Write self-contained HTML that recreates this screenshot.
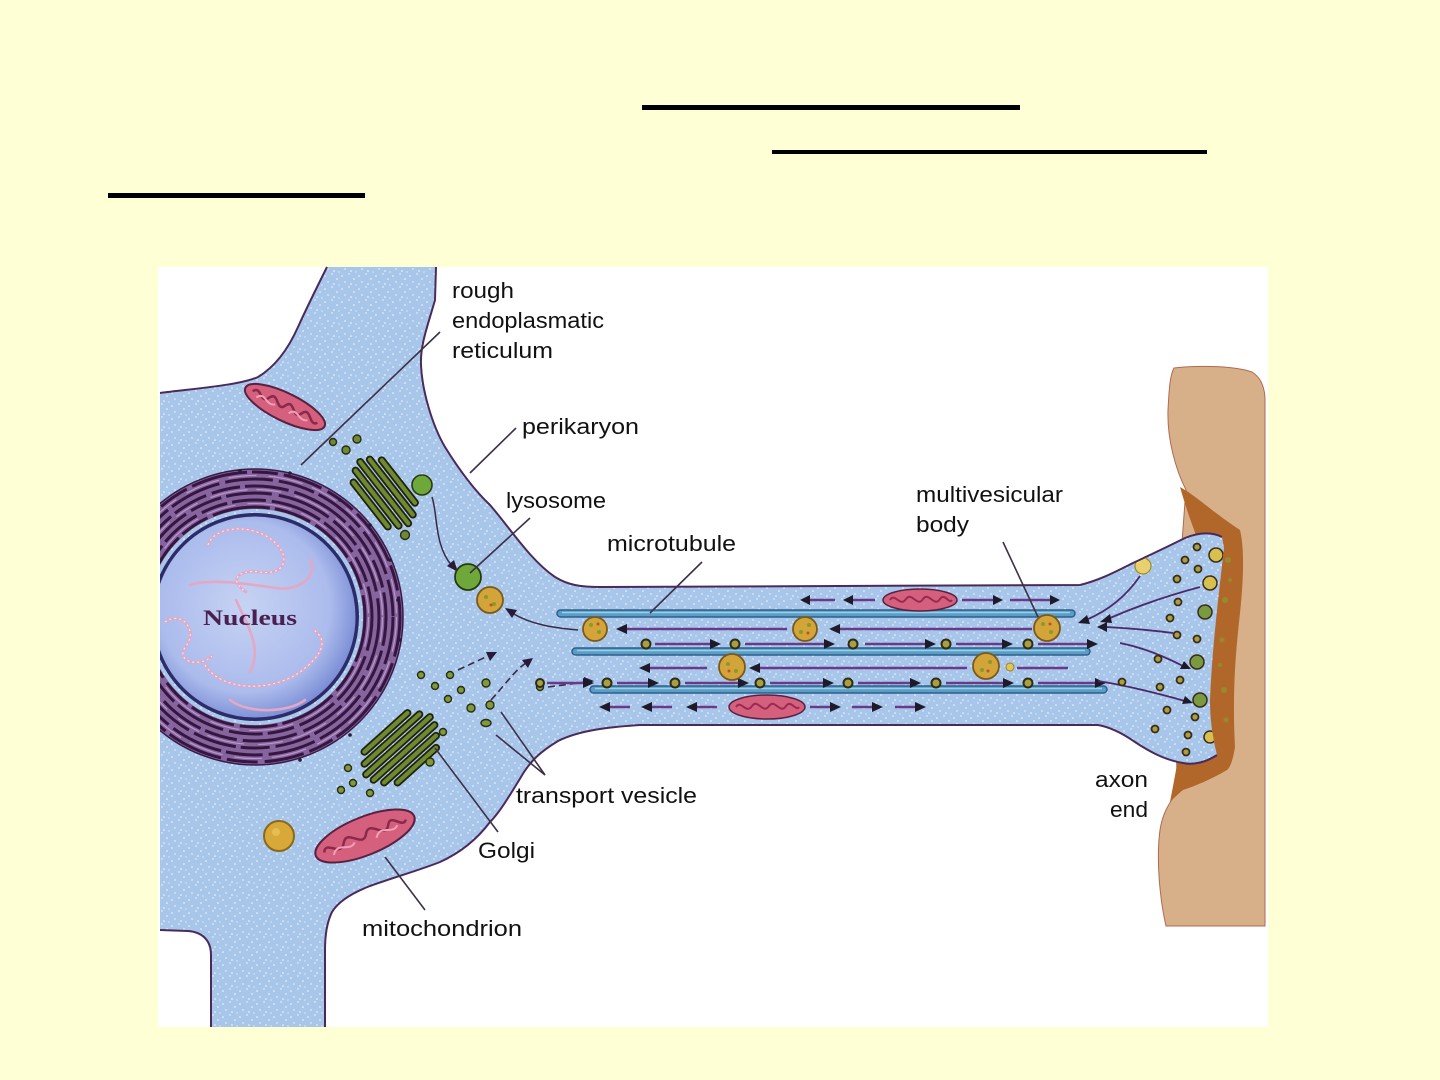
<!DOCTYPE html>
<html><head><meta charset="utf-8"><style>
html,body{margin:0;padding:0;background:#FFFFD6;}
svg{display:block;}
text{font-family:"Liberation Sans",sans-serif;fill:#111;}
</style></head><body>
<svg width="1440" height="1080" viewBox="0 0 1440 1080" xmlns="http://www.w3.org/2000/svg">
<defs>
<pattern id="speck" x="0" y="0" width="17" height="13" patternUnits="userSpaceOnUse">
<circle cx="2" cy="3" r="0.8" fill="#fff"/><circle cx="9" cy="1" r="0.7" fill="#fff"/><circle cx="14" cy="6" r="0.8" fill="#fff"/><circle cx="5" cy="9" r="0.7" fill="#fff"/><circle cx="11" cy="11" r="0.8" fill="#fff"/><circle cx="16" cy="12" r="0.6" fill="#fff"/>
</pattern>
<radialGradient id="nuc" cx="0.45" cy="0.45" r="0.6">
<stop offset="0" stop-color="#C6D3F4"/><stop offset="0.7" stop-color="#ABBBEC"/><stop offset="1" stop-color="#6F82D0"/>
</radialGradient>
<clipPath id="cellclip"><path id="cellpath" d="M160,393 C200,388 240,385 258,377 C278,365 290,345 298,327 C308,305 318,285 327,267 L436,267 L435,300 C428,325 420,345 421,365 C422,390 432,425 445,447 C458,468 472,488 490,505 C510,528 530,560 555,577 C568,585 580,587 600,587 L1080,585 C1100,580 1115,572 1133,563 C1150,555 1167,547 1185,538 C1200,532 1212,532 1222,537 L1224,548 C1218,600 1212,650 1210,700 C1210,725 1214,742 1217,755 C1205,763 1192,765 1183,763 C1165,760 1150,752 1135,742 C1122,733 1110,727 1098,725 L640,725 C610,727 580,730 558,741 C540,752 532,760 524,772 C510,795 500,812 490,822 C478,838 462,852 440,862 C420,870 395,877 370,886 C352,893 338,902 332,912 C327,922 325,935 325,950 L325,1027 L211,1027 L211,955 C211,940 202,932 188,931 L160,930 Z"/></clipPath>
</defs>

<rect x="642" y="105" width="378" height="5" fill="#000"/>
<rect x="772" y="150" width="435" height="4" fill="#000"/>
<rect x="108" y="193" width="257" height="5" fill="#000"/>

<rect x="158" y="267" width="1110" height="760" fill="#fff"/>

<path d="M1174,368 C1200,365 1235,366 1252,372 C1262,378 1265,390 1265,400 L1265,926 L1166,926 C1160,900 1156,860 1160,830 C1163,810 1172,800 1178,790 C1172,700 1180,560 1186,490 C1176,470 1167,440 1168,410 C1169,390 1170,375 1174,368 Z" fill="#D7B08A" stroke="#B06A50" stroke-width="1"/>
<path d="M1180,487 C1195,495 1210,510 1240,530 C1245,550 1243,585 1240,613 C1236,650 1232,690 1235,747 C1233,760 1230,768 1227,770 C1210,780 1195,786 1183,790 C1178,794 1174,798 1170,802 C1178,760 1200,650 1198,540 C1192,525 1185,505 1180,487 Z" fill="#B2672A"/>
<g fill="#8A9A30" opacity="0.7">
<circle cx="1228" cy="560" r="3"/><circle cx="1225" cy="600" r="3"/><circle cx="1222" cy="640" r="2.5"/><circle cx="1224" cy="690" r="3"/><circle cx="1226" cy="720" r="2.5"/><circle cx="1230" cy="580" r="2"/><circle cx="1220" cy="665" r="2"/>
</g>

<use href="#cellpath" fill="#A8C6EA"/>
<use href="#cellpath" fill="url(#speck)" opacity="0.9"/>

<g clip-path="url(#cellclip)">
<circle cx="255" cy="617" r="128" fill="none" stroke="#86649E" stroke-width="40"/>
<g fill="none" stroke="#34163F" stroke-width="3">
<circle cx="255" cy="617" r="110" stroke-dasharray="46 5 30 6 58 5 38 6"/>
<circle cx="255" cy="617" r="117" stroke-dasharray="34 6 52 5 41 6 27 5"/>
<circle cx="255" cy="617" r="124" stroke-dasharray="55 6 33 5 46 7"/>
<circle cx="255" cy="617" r="131" stroke-dasharray="29 5 44 6 60 5 36 6"/>
<circle cx="255" cy="617" r="138" stroke-dasharray="48 6 37 5 53 6"/>
<circle cx="255" cy="617" r="145" stroke-dasharray="40 7 31 6 57 5 26 6"/>
</g>
<g fill="none" stroke="#C9A2DA" stroke-width="1.2" opacity="0.8">
<circle cx="255" cy="617" r="113.5" stroke-dasharray="30 12 45 10"/>
<circle cx="255" cy="617" r="127.5" stroke-dasharray="25 14 38 9"/>
<circle cx="255" cy="617" r="141.5" stroke-dasharray="35 10 28 12"/>
</g>
<circle cx="255" cy="617" r="148" fill="none" stroke="#3A1A48" stroke-width="1.5"/>
<g fill="#2A1A38">
<circle cx="398" cy="600" r="1.8"/><circle cx="400" cy="640" r="1.8"/><circle cx="390" cy="560" r="1.8"/><circle cx="380" cy="690" r="1.8"/><circle cx="350" cy="735" r="1.8"/><circle cx="300" cy="760" r="1.8"/><circle cx="340" cy="500" r="1.8"/><circle cx="290" cy="473" r="1.8"/><circle cx="240" cy="471" r="1.8"/><circle cx="370" cy="525" r="1.8"/>
</g>
<circle cx="255" cy="617" r="104" fill="#3A2A6A"/>
<circle cx="255" cy="617" r="102" fill="url(#nuc)" stroke="#2A2D6A" stroke-width="3"/>
<g fill="none" stroke="#E4A8C2" stroke-width="2.6" stroke-linecap="round">
<path d="M208,545 C215,525 252,524 272,540 C292,556 286,576 260,572 C238,569 228,580 246,592"/>
<path d="M190,585 C210,578 248,584 276,588 C300,592 318,575 310,560"/>
<path d="M205,665 C222,692 272,692 300,672 C320,657 330,642 314,630"/>
<path d="M165,622 C182,610 198,630 186,646 C174,662 200,668 212,656"/>
<path d="M230,700 C250,715 290,712 305,700"/>
<path d="M236,600 C250,630 262,650 250,672"/>
</g>
<g fill="none" stroke="#fff" stroke-width="1" stroke-dasharray="2 3" opacity="0.8">
<path d="M208,545 C215,525 252,524 272,540 C292,556 286,576 260,572 C238,569 228,580 246,592"/>
<path d="M205,665 C222,692 272,692 300,672 C320,657 330,642 314,630"/>
<path d="M165,622 C182,610 198,630 186,646 C174,662 200,668 212,656"/>
</g>
<text x="203" y="625" style="font-family:'Liberation Serif',serif;font-weight:bold;fill:#4A2050;" font-size="22" textLength="94" lengthAdjust="spacingAndGlyphs">Nucleus</text>

<g transform="translate(285,407) rotate(26)">
<ellipse rx="44" ry="14" fill="#D4607E" stroke="#5A2040" stroke-width="2"/>
<path d="M-36,0 C-30,-10 -24,10 -18,-2 C-12,-12 -6,10 0,-2 C6,-12 12,10 18,-2 C24,-12 30,8 36,0" fill="none" stroke="#8A2A4A" stroke-width="2.5"/>
<path d="M-30,4 C-24,-6 -18,8 -10,2 M6,4 C12,-6 18,8 26,2" fill="none" stroke="#F2A0B8" stroke-width="2"/>
</g>
<g transform="translate(365,836) rotate(-22)">
<ellipse rx="53" ry="19" fill="#D4607E" stroke="#5A2040" stroke-width="2"/>
<path d="M-44,0 C-38,-12 -30,12 -22,-2 C-14,-14 -6,12 2,-2 C10,-14 18,12 26,-2 C32,-12 38,8 44,0" fill="none" stroke="#8A2A4A" stroke-width="2.5"/>
<path d="M-36,6 C-28,-6 -20,10 -12,2 M10,6 C18,-6 26,10 34,2" fill="none" stroke="#F2A0B8" stroke-width="2"/>
</g>
<circle cx="279" cy="836" r="15" fill="#D8A838" stroke="#8A6A1A" stroke-width="2"/>
<circle cx="276" cy="832" r="4" fill="#E8C860" opacity="0.7"/>

<g transform="translate(385,492) rotate(52)" fill="#6E8A30" stroke="#22220C" stroke-width="1.8">
<rect x="-30" y="-20" width="60" height="6" rx="3"/>
<rect x="-38" y="-11" width="76" height="6" rx="3"/>
<rect x="-42" y="-2" width="84" height="6" rx="3"/>
<rect x="-38" y="7" width="76" height="6" rx="3"/>
<rect x="-30" y="16" width="62" height="6" rx="3"/>
</g>
<circle cx="422" cy="485" r="10" fill="#6FA83A" stroke="#2A3A10" stroke-width="1.6"/>
<g fill="#6E8A34" stroke="#2A2A10" stroke-width="1.4">
<circle cx="333" cy="442" r="3.5"/><circle cx="346" cy="450" r="4"/><circle cx="357" cy="439" r="4"/><circle cx="405" cy="535" r="4.5"/>
</g>
<g transform="translate(400,748) rotate(-42)" fill="#6E8A30" stroke="#22220C" stroke-width="1.8">
<rect x="-32" y="-24" width="64" height="6" rx="3"/>
<rect x="-40" y="-15" width="80" height="6" rx="3"/>
<rect x="-46" y="-6" width="92" height="6" rx="3"/>
<rect x="-44" y="3" width="88" height="6" rx="3"/>
<rect x="-38" y="12" width="76" height="6" rx="3"/>
<rect x="-28" y="21" width="58" height="6" rx="3"/>
</g>
<g fill="#7E9A3C" stroke="#2A2A10" stroke-width="1.4">
<circle cx="421" cy="675" r="3.5"/><circle cx="450" cy="675" r="3.5"/><circle cx="435" cy="686" r="3.5"/><circle cx="461" cy="690" r="3.5"/><circle cx="448" cy="699" r="3.5"/><circle cx="471" cy="708" r="4"/><circle cx="486" cy="683" r="4"/><circle cx="490" cy="705" r="4"/><ellipse cx="486" cy="723" rx="5" ry="3.5"/><circle cx="540" cy="687" r="3.5"/><circle cx="430" cy="762" r="4"/><circle cx="348" cy="768" r="3.5"/><circle cx="341" cy="790" r="3.5"/><circle cx="353" cy="783" r="3.5"/><circle cx="370" cy="793" r="3.5"/><circle cx="443" cy="732" r="3.5"/>
</g>

<path d="M432,497 C438,515 434,545 452,566" fill="none" stroke="#3A2A4A" stroke-width="1.5"/>
<polygon points="458,572 447,566 454,560" fill="#2A1A3A"/>
<circle cx="468" cy="577" r="13" fill="#6FA83A" stroke="#2A3A10" stroke-width="1.8"/>
<circle cx="490" cy="600" r="13" fill="#D2A43A" stroke="#7A5A1A" stroke-width="1.8"/>
<path d="M578,630 C555,628 532,625 512,613" fill="none" stroke="#3A2A4A" stroke-width="1.5"/>
<polygon points="505,608 517,610 512,618" fill="#2A1A3A"/>

<g fill="none" stroke="#3A2A4A" stroke-width="1.6" stroke-dasharray="7 4">
<path d="M458,670 L490,655"/><path d="M491,700 C505,685 515,670 526,663"/><path d="M548,687 L586,682"/>
</g>
<g fill="#2A1A3A">
<polygon points="497,652 486,652 490,661"/><polygon points="533,658 522,660 528,668"/><polygon points="594,681 584,677 584,686"/>
</g>

<g fill="#5A9DC8" stroke="#2F5F8A" stroke-width="1.5">
<rect x="557" y="610" width="518" height="7" rx="3.5"/>
<rect x="572" y="648" width="518" height="7" rx="3.5"/>
<rect x="590" y="686" width="517" height="7" rx="3.5"/>
</g>
<g stroke="#9AD0E4" stroke-width="1.5">
<line x1="562" y1="612.5" x2="1070" y2="612.5"/><line x1="577" y1="650.5" x2="1085" y2="650.5"/><line x1="595" y1="688.5" x2="1102" y2="688.5"/>
</g>

<g stroke="#6A3A8A" stroke-width="2.5" fill="none">
<line x1="806" y1="600" x2="835" y2="600"/><line x1="849" y1="600" x2="875" y2="600"/>
<line x1="962" y1="600" x2="996" y2="600"/><line x1="1010" y1="600" x2="1053" y2="600"/>
<line x1="622" y1="629" x2="787" y2="629"/><line x1="835" y1="629" x2="1032" y2="629"/>
<line x1="655" y1="644" x2="714" y2="644"/><line x1="745" y1="644" x2="828" y2="644"/><line x1="865" y1="644" x2="929" y2="644"/><line x1="956" y1="644" x2="1006" y2="644"/><line x1="1038" y1="644" x2="1091" y2="644"/>
<line x1="645" y1="668" x2="707" y2="668"/><line x1="755" y1="668" x2="967" y2="668"/><line x1="1017" y1="668" x2="1068" y2="668"/>
<line x1="547" y1="683" x2="587" y2="683"/><line x1="617" y1="683" x2="652" y2="683"/><line x1="685" y1="683" x2="742" y2="683"/><line x1="770" y1="683" x2="827" y2="683"/><line x1="858" y1="683" x2="914" y2="683"/><line x1="946" y1="683" x2="1007" y2="683"/><line x1="1038" y1="683" x2="1099" y2="683"/>
<line x1="606" y1="707" x2="630" y2="707"/><line x1="648" y1="707" x2="672" y2="707"/><line x1="693" y1="707" x2="717" y2="707"/>
<line x1="810" y1="707" x2="834" y2="707"/><line x1="852" y1="707" x2="876" y2="707"/><line x1="895" y1="707" x2="919" y2="707"/>
</g>
<g fill="#1E1A2A">
<polygon points="800,600 810,595 810,605"/><polygon points="843,600 853,595 853,605"/>
<polygon points="616,629 627,624 627,634"/><polygon points="829,629 840,624 840,634"/>
<polygon points="639,668 650,663 650,673"/><polygon points="749,668 760,663 760,673"/>
<polygon points="599,707 610,702 610,712"/><polygon points="641,707 652,702 652,712"/><polygon points="686,707 697,702 697,712"/>
<polygon points="1003,600 993,595 993,605"/><polygon points="1060,600 1050,595 1050,605"/>
<polygon points="721,644 710,639 710,649"/><polygon points="835,644 824,639 824,649"/><polygon points="936,644 925,639 925,649"/><polygon points="1013,644 1002,639 1002,649"/><polygon points="1098,644 1087,639 1087,649"/>
<polygon points="594,683 583,678 583,688"/><polygon points="659,683 648,678 648,688"/><polygon points="749,683 738,678 738,688"/><polygon points="834,683 823,678 823,688"/><polygon points="921,683 910,678 910,688"/><polygon points="1014,683 1003,678 1003,688"/><polygon points="1106,683 1095,678 1095,688"/>
<polygon points="841,707 830,702 830,712"/><polygon points="883,707 872,702 872,712"/><polygon points="926,707 915,702 915,712"/>
</g>
<g fill="#A8A040" stroke="#2E2A1A" stroke-width="2">
<circle cx="646" cy="644" r="4.5"/><circle cx="735" cy="644" r="4.5"/><circle cx="853" cy="644" r="4.5"/><circle cx="946" cy="644" r="4.5"/><circle cx="1028" cy="644" r="4.5"/>
<circle cx="607" cy="683" r="4.5"/><circle cx="675" cy="683" r="4.5"/><circle cx="760" cy="683" r="4.5"/><circle cx="848" cy="683" r="4.5"/><circle cx="936" cy="683" r="4.5"/><circle cx="1028" cy="683" r="4.5"/>
<circle cx="540" cy="683" r="4"/>
</g>
<circle cx="1010" cy="667" r="4" fill="#E0C850" stroke="#A07A30" stroke-width="1"/>
<g fill="#D2A43A" stroke="#7A5A1A" stroke-width="1.8">
<circle cx="595" cy="629" r="12"/><circle cx="805" cy="629" r="12"/><circle cx="1047" cy="628" r="13"/><circle cx="732" cy="667" r="13"/><circle cx="986" cy="666" r="13"/>
</g>
<g fill="#8A9A2A">
<circle cx="591" cy="625" r="2"/><circle cx="599" cy="632" r="2"/><circle cx="801" cy="632" r="2"/><circle cx="809" cy="625" r="2"/><circle cx="1043" cy="624" r="2"/><circle cx="1051" cy="632" r="2"/><circle cx="728" cy="664" r="2"/><circle cx="736" cy="671" r="2"/><circle cx="982" cy="670" r="2"/><circle cx="990" cy="662" r="2"/><circle cx="486" cy="597" r="2"/><circle cx="494" cy="604" r="2"/>
</g>
<g fill="#C0502A">
<circle cx="598" cy="624" r="1.5"/><circle cx="808" cy="633" r="1.5"/><circle cx="1050" cy="624" r="1.5"/><circle cx="729" cy="671" r="1.5"/><circle cx="988" cy="671" r="1.5"/><circle cx="491" cy="605" r="1.5"/>
</g>
<g transform="translate(920,600)">
<ellipse rx="37" ry="11" fill="#D4607E" stroke="#5A2040" stroke-width="1.5"/>
<path d="M-30,0 C-25,-8 -20,8 -14,-1 C-8,-9 -3,8 3,-1 C9,-9 14,8 20,-1 C25,-8 29,5 32,0" fill="none" stroke="#9A2A50" stroke-width="2"/>
</g>
<g transform="translate(767,707)">
<ellipse rx="38" ry="12" fill="#D4607E" stroke="#5A2040" stroke-width="1.5"/>
<path d="M-31,0 C-26,-8 -21,8 -15,-1 C-9,-9 -4,8 2,-1 C8,-9 13,8 19,-1 C24,-8 29,5 32,0" fill="none" stroke="#9A2A50" stroke-width="2"/>
</g>

<g fill="none" stroke="#4A2A6A" stroke-width="1.8">
<path d="M1200,587 C1170,595 1140,605 1110,618"/>
<path d="M1173,633 C1150,630 1125,628 1106,627"/>
<path d="M1140,576 C1125,598 1105,612 1086,620"/>
<path d="M1120,643 C1145,648 1165,657 1183,666"/>
<path d="M1098,681 C1130,686 1160,694 1185,701"/>
</g>
<g fill="#1E1A2A">
<polygon points="1100,622 1110,614 1112,623"/>
<polygon points="1097,627 1107,622 1107,632"/>
<polygon points="1078,623 1087,615 1090,624"/>
<polygon points="1191,669 1180,669 1184,661"/>
<polygon points="1193,703 1182,704 1185,696"/>
</g>
<circle cx="1143" cy="566" r="8" fill="#E6D070" stroke="#A08A30" stroke-width="1.2"/>
<path d="M1138,556 L1141,561 M1146,555 L1144,560 M1136,561 L1140,563" stroke="#F0E060" stroke-width="2"/>
<g fill="#A8A040" stroke="#3A2A1A" stroke-width="1.8">
<circle cx="1197" cy="547" r="3.5"/><circle cx="1185" cy="560" r="3.5"/><circle cx="1198" cy="569" r="3.5"/><circle cx="1177" cy="579" r="3.5"/><circle cx="1178" cy="602" r="3.5"/><circle cx="1170" cy="618" r="3.5"/><circle cx="1177" cy="635" r="3.5"/><circle cx="1197" cy="639" r="3.5"/><circle cx="1158" cy="659" r="3.5"/><circle cx="1180" cy="680" r="3.5"/><circle cx="1160" cy="687" r="3.5"/><circle cx="1122" cy="682" r="3.5"/><circle cx="1167" cy="710" r="3.5"/><circle cx="1195" cy="717" r="3.5"/><circle cx="1155" cy="729" r="3.5"/><circle cx="1188" cy="735" r="3.5"/><circle cx="1186" cy="752" r="3.5"/>
</g>
<g stroke="#3A2A1A" stroke-width="1.5">
<circle cx="1216" cy="555" r="7" fill="#D8C050"/><circle cx="1210" cy="583" r="7" fill="#D8C050"/><circle cx="1205" cy="612" r="7" fill="#7A9A40"/><circle cx="1197" cy="662" r="7" fill="#7A9A40"/><circle cx="1200" cy="700" r="7" fill="#7A9A40"/><circle cx="1210" cy="737" r="6" fill="#D8C050"/>
</g>
</g>

<g fill="none" stroke="#4A2A5A" stroke-width="2">
<path d="M160,393 C200,388 240,385 258,377 C278,365 290,345 298,327 C308,305 318,285 327,267"/>
<path d="M436,267 L435,300 C428,325 420,345 421,365 C422,390 432,425 445,447 C458,468 472,488 490,505 C510,528 530,560 555,577 C568,585 580,587 600,587 L1080,585 C1100,580 1115,572 1133,563 C1150,555 1167,547 1185,538 C1200,532 1212,532 1222,537"/>
<path d="M1217,755 C1205,763 1192,765 1183,763 C1165,760 1150,752 1135,742 C1122,733 1110,727 1098,725 L640,725 C610,727 580,730 558,741 C540,752 532,760 524,772 C510,795 500,812 490,822 C478,838 462,852 440,862 C420,870 395,877 370,886 C352,893 338,902 332,912 C327,922 325,935 325,950 L325,1027"/>
<path d="M211,1027 L211,955 C211,940 202,932 188,931 L160,930"/>
</g>

<g stroke="#3E3048" stroke-width="1.6" fill="none">
<line x1="440" y1="332" x2="301" y2="465"/>
<line x1="516" y1="428" x2="470" y2="473"/>
<line x1="530" y1="518" x2="470" y2="573"/>
<line x1="702" y1="562" x2="650" y2="613"/>
<line x1="1003" y1="542" x2="1038" y2="617"/>
<line x1="545" y1="775" x2="501" y2="712"/>
<line x1="545" y1="775" x2="496" y2="735"/>
<line x1="498" y1="832" x2="435" y2="748"/>
<line x1="425" y1="910" x2="385" y2="857"/>
</g>

<g font-size="22">
<text x="452" y="298" textLength="62" lengthAdjust="spacingAndGlyphs">rough</text>
<text x="452" y="328" textLength="152" lengthAdjust="spacingAndGlyphs">endoplasmatic</text>
<text x="452" y="358" textLength="101" lengthAdjust="spacingAndGlyphs">reticulum</text>
<text x="522" y="434" textLength="117" lengthAdjust="spacingAndGlyphs">perikaryon</text>
<text x="506" y="508" textLength="100" lengthAdjust="spacingAndGlyphs">lysosome</text>
<text x="607" y="551" textLength="129" lengthAdjust="spacingAndGlyphs">microtubule</text>
<text x="916" y="502" textLength="147" lengthAdjust="spacingAndGlyphs">multivesicular</text>
<text x="916" y="532" textLength="53" lengthAdjust="spacingAndGlyphs">body</text>
<text x="516" y="803" textLength="181" lengthAdjust="spacingAndGlyphs">transport vesicle</text>
<text x="478" y="858" textLength="57" lengthAdjust="spacingAndGlyphs">Golgi</text>
<text x="362" y="936" textLength="160" lengthAdjust="spacingAndGlyphs">mitochondrion</text>
<text x="1095" y="787" textLength="53" lengthAdjust="spacingAndGlyphs">axon</text>
<text x="1110" y="817" textLength="38" lengthAdjust="spacingAndGlyphs">end</text>
</g>
</svg>
</body></html>
